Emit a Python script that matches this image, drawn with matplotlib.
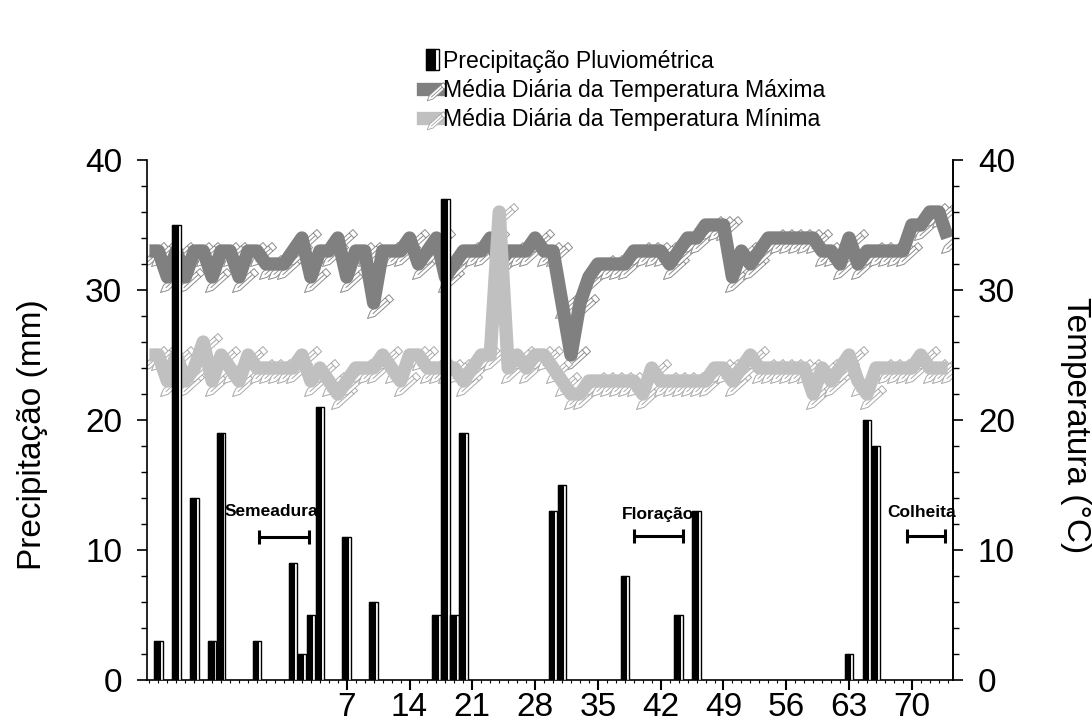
import numpy as np
import matplotlib
matplotlib.use("Agg")
import matplotlib.pyplot as plt
from matplotlib.path import Path
from matplotlib.patches import Rectangle
from matplotlib.lines import Line2D

plt.rcParams['font.family'] = ['Liberation Sans', 'DejaVu Sans']

# dias (eixo de categorias)
days = list(range(-15, 75))

# precipitação (mm) - só os dias com chuva
rain_days = [-14, -12, -10, -8, -7, -3, 1, 2, 3, 4, 7, 10, 17, 18, 19, 20,
             30, 31, 38, 44, 46, 63, 65, 66]
rain_mm = [3, 35, 14, 3, 19, 3, 9, 2, 5, 21, 11, 6, 5, 37, 5, 19,
           13, 15, 8, 5, 13, 2, 20, 18]

# média diária da temperatura máxima (°C), dias -15..74
tmax = [33, 33, 31, 33, 31, 33, 33, 31, 33, 33, 31, 33, 33, 32, 32, 32, 33, 34, 31, 33,
        33, 34, 31, 33, 33, 29, 33, 33, 33, 34,
        32, 33, 34, 31, 32, 33, 33, 33, 34, 32, 33, 33, 33, 34, 33, 33, 29, 25, 29, 31,
        32, 32, 32, 32, 33, 33, 33, 33, 32, 33, 34,
        34, 35, 35, 35, 31, 33, 32, 33, 34, 34, 34, 34, 34, 34, 33, 33, 32, 34, 32, 33,
        33, 33, 33, 33, 35, 35, 36, 36, 34]

# média diária da temperatura mínima (°C), dias -15..74
tmin = [25, 25, 23, 25, 23, 24, 26, 23, 25, 24, 23, 25, 24, 24, 24, 24, 24, 25, 23, 24,
        23, 22, 23, 24, 24, 24, 25, 24, 23, 25,
        25, 24, 24, 24, 24, 23, 24, 25, 25, 36, 24, 25, 24, 25, 25, 24, 23, 22, 22, 23,
        23, 23, 23, 23, 23, 22, 24, 23, 23, 23, 23,
        23, 23, 24, 24, 23, 24, 25, 24, 24, 24, 24, 24, 24, 22, 24, 23, 24, 25, 23, 22,
        24, 24, 24, 24, 24, 25, 24, 24, 24]

# fases da cultura
phase_names = ['Semeadura', 'Floração', 'Colheita']
phase_center = [0, 41.75, 71.6]
phase_halfspan = [2.8, 2.7, 2.15]
phase_level = [11, 11.1, 11.1]
phase_label_x = [-1.45, 41.7, 71.1]
phase_label_y = [13.0, 12.7, 12.9]

xticks = [7, 14, 21, 28, 35, 42, 49, 56, 63, 70]

COL_MAX = '#808080'
COL_MIN = '#c0c0c0'
LW = 9.6

# marcador "lápis" (clip-art do Excel)
th = np.radians(42)
dv = np.array([np.cos(th), np.sin(th)])
nv = np.array([-np.sin(th), np.cos(th)])
tip = np.array([-7.0, -15.0])
L, w, s = 32.0, 3.4, 7.0
verts = [tip, tip + s * dv + w * nv, tip + L * dv + w * nv, tip + L * dv - w * nv,
         tip + s * dv - w * nv, tip,
         tip + (L - 5) * dv + w * nv, tip + (L - 5) * dv - w * nv,
         tip + s * dv, tip + (L - 5) * dv]
codes = [Path.MOVETO, Path.LINETO, Path.LINETO, Path.LINETO, Path.LINETO,
         Path.CLOSEPOLY, Path.MOVETO, Path.LINETO, Path.MOVETO, Path.LINETO]
pencil = Path(np.array(verts), codes)
pencil_ms = 2 * np.max(np.abs(np.array(verts))) * 72 / 100

fig = plt.figure(figsize=(10.92, 7.22), dpi=100)
ax = fig.add_axes([147 / 1092, 1 - 680 / 722, 806 / 1092, 520 / 722])
ax.set_xlim(-15.27, 74.59)
ax.set_ylim(0, 40)

# lápis por baixo das linhas
ax.plot(days, tmax, ls='none', marker=pencil, ms=pencil_ms, mfc='white',
        mec='#8c8c8c', mew=0.7, zorder=1)
ax.plot(days, tmin, ls='none', marker=pencil, ms=pencil_ms, mfc='white',
        mec='#a8a8a8', mew=0.7, zorder=1)

ax.plot(days, tmax, color=COL_MAX, lw=LW, solid_joinstyle='round',
        solid_capstyle='butt', zorder=2)
ax.plot(days, tmin, color=COL_MIN, lw=LW, solid_joinstyle='round',
        solid_capstyle='butt', zorder=3)

# barras: preto com faixa branca à direita
bw = 0.95
ax.bar(rain_days, rain_mm, width=bw, color='white', edgecolor='black',
       linewidth=1.0, zorder=4)
ax.bar(np.array(rain_days) - bw / 2, rain_mm, width=bw * 0.66, align='edge',
       color='black', edgecolor='black', linewidth=0.8, zorder=5)

# fases
ax.errorbar(phase_center, phase_level, xerr=phase_halfspan, fmt='none',
            ecolor='black', elinewidth=2.2, capsize=4.7, capthick=2.2, zorder=6)
for name, xl, yl in zip(phase_names, phase_label_x, phase_label_y):
    ax.text(xl, yl, name, ha='center', va='center', fontsize=12.5,
            fontweight='bold', zorder=7)

# eixos
ax.spines['top'].set_visible(False)
for sp in ['left', 'bottom', 'right']:
    ax.spines[sp].set_linewidth(1.2)
ax.set_yticks([0, 10, 20, 30, 40])
ax.set_yticks(np.arange(0, 41, 2), minor=True)
ax.set_xticks(xticks)
ax.set_xticks(days, minor=True)
ax.tick_params(axis='y', which='major', direction='out', length=7, width=1.2,
               labelsize=24, pad=11)
ax.tick_params(axis='y', which='minor', direction='out', length=4, width=1.0)
ax.tick_params(axis='x', which='major', direction='out', length=7, width=1.5,
               labelsize=24, pad=2)
ax.tick_params(axis='x', which='minor', direction='out', length=2.2, width=0.8)

ax2 = ax.twinx()
ax2.set_ylim(0, 40)
for sp in ['top', 'left', 'bottom']:
    ax2.spines[sp].set_visible(False)
ax2.spines['right'].set_linewidth(1.2)
ax2.set_yticks([0, 10, 20, 30, 40])
ax2.set_yticks(np.arange(0, 41, 2), minor=True)
ax2.tick_params(axis='y', which='major', direction='out', length=7, width=1.2,
                labelsize=24, pad=11)
ax2.tick_params(axis='y', which='minor', direction='out', length=4, width=1.0)

fig.text(33 / 1092, 1 - 435 / 722, 'Precipitação (mm)', rotation=90,
         ha='center', va='center', fontsize=24)
fig.text(1075 / 1092, 1 - 425 / 722, 'Temperatura (°C)', rotation=270,
         ha='center', va='center', fontsize=24)


# legenda
class BarHandler:
    def legend_artist(self, legend, orig_handle, fontsize, handlebox):
        x0, y0 = handlebox.xdescent, handlebox.ydescent
        wd, ht = handlebox.width, handlebox.height
        r1 = Rectangle((x0 + wd * 0.15, y0 - ht * 0.1), wd * 0.75, ht * 1.25,
                       facecolor='white', edgecolor='black', lw=1.0,
                       transform=handlebox.get_transform())
        r2 = Rectangle((x0 + wd * 0.15, y0 - ht * 0.1), wd * 0.52, ht * 1.25,
                       facecolor='black', edgecolor='black', lw=0.8,
                       transform=handlebox.get_transform())
        handlebox.add_artist(r1)
        handlebox.add_artist(r2)
        return r1


bar_handle = Rectangle((0, 0), 1, 1)
max_handle = Line2D([], [], color=COL_MAX, lw=LW, marker=pencil, ms=pencil_ms * 0.75,
                    mfc='white', mec='#8c8c8c', mew=0.6)
min_handle = Line2D([], [], color=COL_MIN, lw=LW, marker=pencil, ms=pencil_ms * 0.75,
                    mfc='white', mec='#a8a8a8', mew=0.6)
fig.legend([bar_handle, max_handle, min_handle],
           ['Precipitação Pluviométrica', 'Média Diária da Temperatura Máxima',
            'Média Diária da Temperatura Mínima'],
           handler_map={Rectangle: BarHandler()},
           loc='upper left', bbox_to_anchor=(423 / 1092, 1 - 50 / 722),
           frameon=False, fontsize=16.6, handlelength=0.75, handletextpad=0.1,
           labelspacing=0.27, borderpad=0, borderaxespad=0, numpoints=1)

fig.savefig('out.png', dpi=100)
